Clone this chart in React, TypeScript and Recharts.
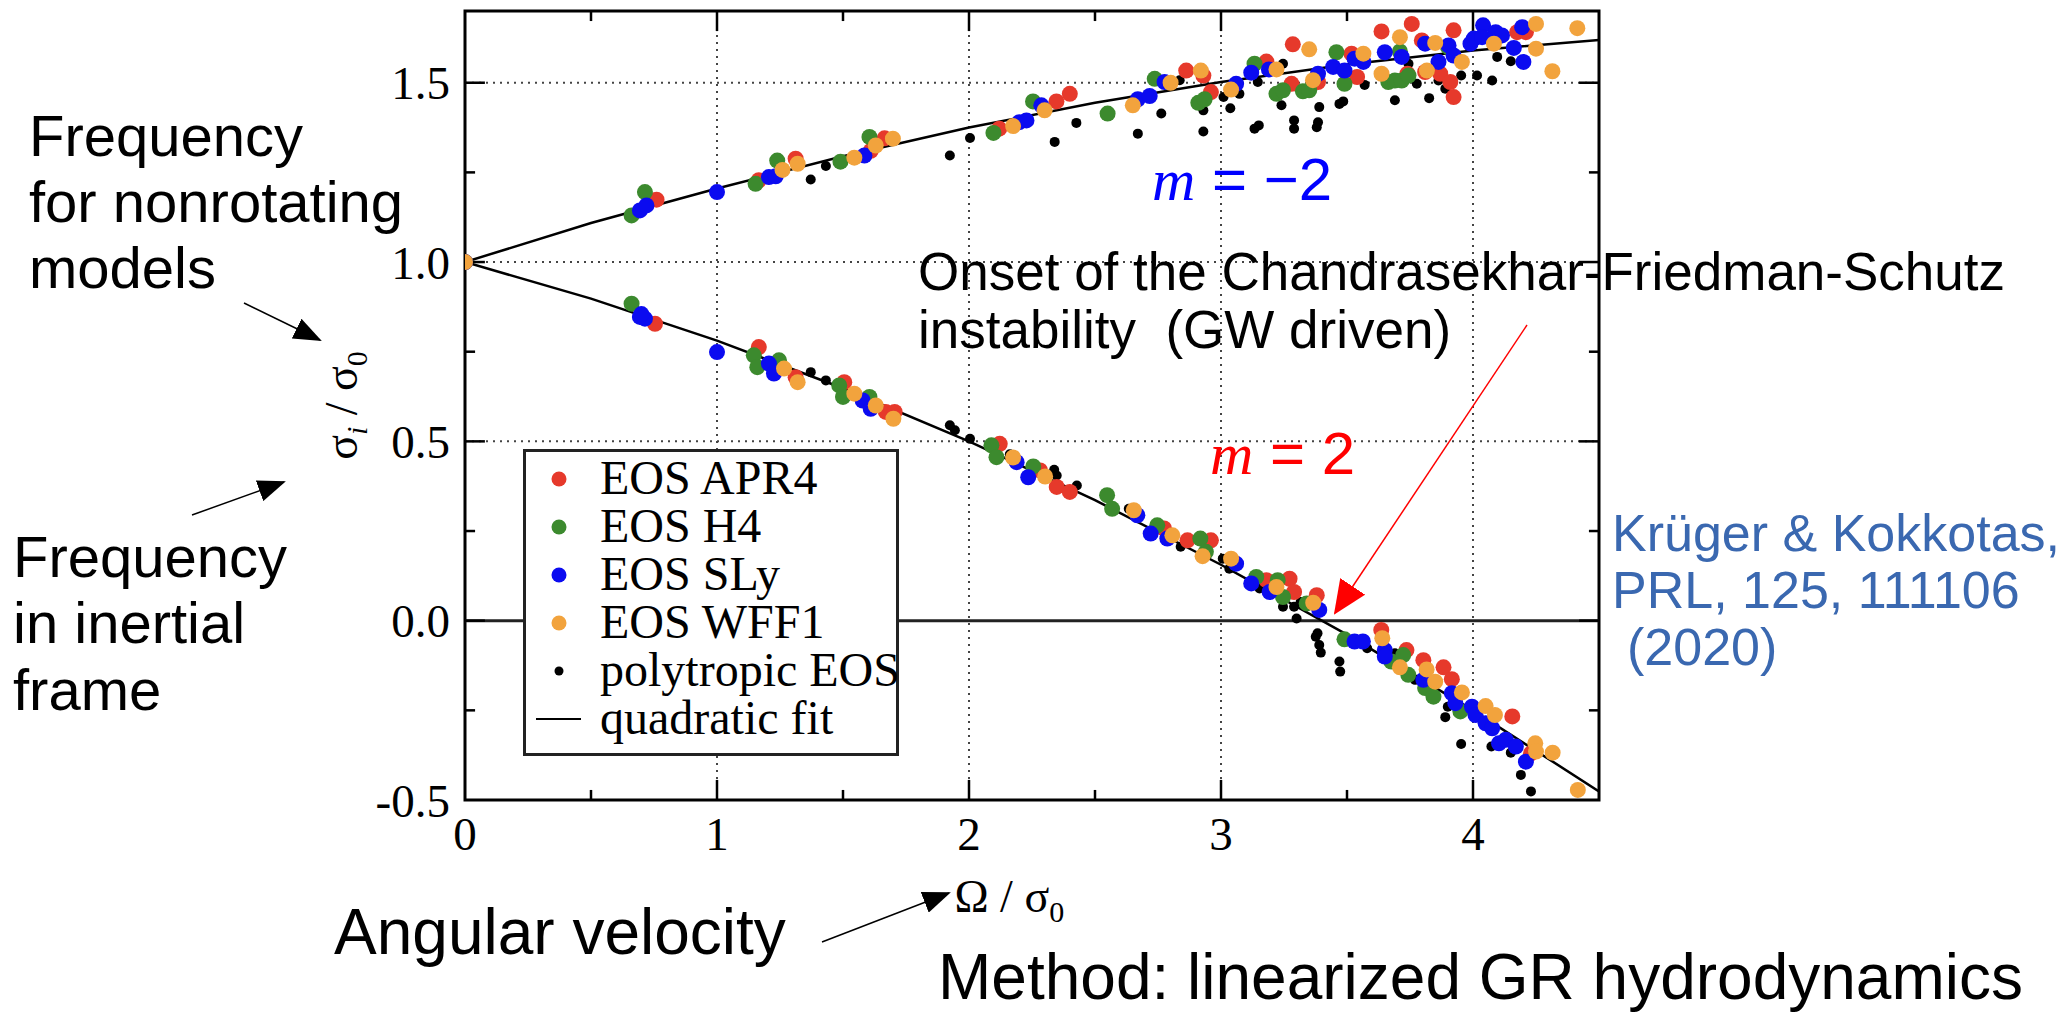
import React from 'react';
import {
  ScatterChart,
  Scatter,
  XAxis,
  YAxis,
  ReferenceLine,
  ReferenceArea,
  Legend
} from 'recharts';

type Pt = [number, number];

// m = -2 branch (upper) and m = 2 branch (lower)
const apr4Upper: Pt[] = [
  [0, 1.0], [0.76, 1.174], [1.166, 1.228], [1.312, 1.288], [1.61, 1.31], [1.665, 1.345],
  [2.12, 1.372], [2.347, 1.448], [2.4, 1.469], [2.862, 1.534], [2.93, 1.52], [2.96, 1.474],
  [3.18, 1.559], [3.285, 1.607], [3.28, 1.497], [3.385, 1.502], [3.518, 1.581], [3.54, 1.516],
  [3.637, 1.643], [3.757, 1.664], [3.797, 1.618], [3.923, 1.646], [3.74, 1.525], [3.81, 1.53],
  [3.87, 1.525], [3.91, 1.502], [3.923, 1.46], [4.175, 1.641], [4.21, 1.641]
];
const apr4Lower: Pt[] = [
  [0.754, 0.828], [1.166, 0.763], [1.312, 0.679], [1.505, 0.665], [1.67, 0.582], [1.705, 0.582],
  [2.122, 0.493], [2.282, 0.419], [2.348, 0.373], [2.4, 0.359], [2.774, 0.257], [2.867, 0.224],
  [2.96, 0.224], [3.18, 0.113], [3.272, 0.117], [3.29, 0.08], [3.38, 0.071], [3.636, -0.026],
  [3.736, -0.082], [3.803, -0.11], [3.883, -0.13], [3.916, -0.163], [4.156, -0.267], [4.23, -0.37]
];

const h4Upper: Pt[] = [
  [0, 1.0], [0.661, 1.13], [0.714, 1.195], [1.153, 1.218], [1.239, 1.283], [1.49, 1.28],
  [1.605, 1.349], [2.097, 1.36], [2.254, 1.448], [2.55, 1.414], [2.737, 1.511], [2.91, 1.444],
  [2.935, 1.454], [3.133, 1.553], [3.22, 1.469], [3.246, 1.479], [3.325, 1.476], [3.35, 1.479],
  [3.458, 1.585], [3.49, 1.497], [3.664, 1.502], [3.69, 1.506], [3.717, 1.506], [3.744, 1.52],
  [3.71, 1.587], [3.9, 1.6]
];
const h4Lower: Pt[] = [
  [0.661, 0.884], [1.146, 0.74], [1.16, 0.707], [1.246, 0.726], [1.485, 0.656], [1.5, 0.624],
  [1.605, 0.624], [2.089, 0.489], [2.109, 0.456], [2.255, 0.43], [2.548, 0.35], [2.568, 0.312],
  [2.747, 0.266], [2.918, 0.229], [2.94, 0.192], [3.14, 0.122], [3.225, 0.113], [3.246, 0.066],
  [3.34, 0.048], [3.49, -0.052], [3.676, -0.114], [3.723, -0.096], [3.743, -0.151], [3.81, -0.188],
  [3.843, -0.212], [3.95, -0.253]
];

const slyUpper: Pt[] = [
  [0, 1.0], [0.694, 1.144], [0.72, 1.158], [1.0, 1.195], [1.206, 1.237], [1.233, 1.239],
  [1.585, 1.297], [2.2, 1.39], [2.228, 1.395], [2.287, 1.437], [2.67, 1.454], [2.717, 1.463],
  [2.776, 1.502], [3.06, 1.497], [3.12, 1.528], [3.19, 1.537], [3.385, 1.525], [3.445, 1.544],
  [3.49, 1.534], [3.53, 1.567], [3.565, 1.558], [3.65, 1.585], [3.717, 1.572], [3.81, 1.609],
  [3.863, 1.558], [3.903, 1.604], [3.923, 1.576], [3.99, 1.609], [4.003, 1.623], [4.04, 1.66],
  [4.036, 1.627], [4.09, 1.641], [4.115, 1.632], [4.162, 1.597], [4.195, 1.655], [4.2, 1.558]
];
const slyLower: Pt[] = [
  [0.694, 0.847], [0.714, 0.842], [0.7, 0.855], [1.0, 0.749], [1.206, 0.717], [1.226, 0.689],
  [1.578, 0.614], [1.61, 0.591], [2.189, 0.442], [2.235, 0.4], [2.668, 0.294], [2.721, 0.243],
  [2.787, 0.229], [3.06, 0.159], [3.12, 0.104], [3.193, 0.08], [3.39, 0.03], [3.53, -0.058],
  [3.563, -0.058], [3.65, -0.082], [3.65, -0.1], [3.803, -0.165], [3.916, -0.202], [3.93, -0.23],
  [3.996, -0.24], [4.01, -0.263], [4.05, -0.286], [4.076, -0.3], [4.103, -0.342], [4.13, -0.332],
  [4.17, -0.351], [4.21, -0.393]
];

const wff1Upper: Pt[] = [
  [0, 1.0], [1.26, 1.257], [1.32, 1.274], [1.545, 1.291], [1.63, 1.325], [1.698, 1.344],
  [2.175, 1.379], [2.3, 1.423], [2.65, 1.437], [2.8, 1.5], [2.92, 1.534], [3.04, 1.481],
  [3.22, 1.537], [3.35, 1.593], [3.365, 1.507], [3.565, 1.581], [3.637, 1.525], [3.71, 1.627],
  [3.817, 1.534], [3.85, 1.611], [3.956, 1.558], [4.083, 1.609], [4.25, 1.664], [4.25, 1.595],
  [4.315, 1.532], [4.414, 1.652]
];
const wff1Lower: Pt[] = [
  [1.266, 0.703], [1.32, 0.665], [1.545, 0.633], [1.63, 0.6], [1.7, 0.563], [2.175, 0.455],
  [2.302, 0.402], [2.654, 0.308], [2.807, 0.238], [2.927, 0.18], [3.04, 0.173], [3.22, 0.094],
  [3.366, 0.05], [3.64, -0.049], [3.71, -0.13], [3.816, -0.136], [3.85, -0.17], [3.956, -0.2],
  [4.05, -0.238], [4.087, -0.263], [4.247, -0.342], [4.25, -0.365], [4.316, -0.368], [4.416, -0.472]
];

const polyUpper: Pt[] = [
  [1.372, 1.23], [1.432, 1.268], [1.924, 1.297], [2.004, 1.346], [2.34, 1.335], [2.426, 1.388],
  [2.67, 1.358], [2.763, 1.414], [2.836, 1.507], [2.93, 1.423], [2.93, 1.364], [3.01, 1.46],
  [3.037, 1.429], [3.073, 1.469], [3.146, 1.502], [3.133, 1.372], [3.15, 1.381], [3.246, 1.553],
  [3.24, 1.437], [3.29, 1.395], [3.29, 1.372], [3.39, 1.432], [3.385, 1.39], [3.38, 1.376],
  [3.47, 1.441], [3.485, 1.448], [3.57, 1.494], [3.69, 1.451], [3.744, 1.553], [3.777, 1.497],
  [3.826, 1.457], [3.863, 1.506], [3.89, 1.483], [3.953, 1.52], [4.016, 1.52], [4.076, 1.506],
  [4.096, 1.572], [4.15, 1.56]
];
const polyLower: Pt[] = [
  [1.372, 0.693], [1.432, 0.67], [1.924, 0.545], [1.944, 0.531], [2.004, 0.507], [2.162, 0.464],
  [2.338, 0.421], [2.348, 0.405], [2.428, 0.377], [2.634, 0.312], [2.84, 0.206], [3.007, 0.173],
  [3.033, 0.145], [3.153, 0.09], [3.246, 0.039], [3.29, 0.039], [3.3, 0.006], [3.316, 0.052],
  [3.383, -0.035], [3.376, -0.045], [3.39, -0.068], [3.396, -0.089], [3.47, -0.114], [3.473, -0.142],
  [3.58, -0.077], [3.69, -0.091], [3.77, -0.165], [3.89, -0.269], [3.9, -0.24], [3.953, -0.344],
  [4.073, -0.351], [4.15, -0.368], [4.19, -0.43], [4.23, -0.476]
];

// quadratic fit curves
const fitUpper: Pt[] = [
  [0, 1.0], [0.5, 1.109], [1, 1.205], [1.5, 1.295], [2, 1.375], [2.5, 1.444],
  [3, 1.502], [3.5, 1.551], [4, 1.59], [4.5, 1.619]
];
const fitLower: Pt[] = [
  [0, 1.0], [0.5, 0.898], [1, 0.781], [1.5, 0.648], [2, 0.5], [2.5, 0.336],
  [3, 0.156], [3.5, -0.039], [4, -0.25], [4.5, -0.476]
];

const xTicks = [0, 1, 2, 3, 4];
const yTicks = [-0.5, 0, 0.5, 1, 1.5];
const xMajorMarks = [1, 2, 3, 4];
const xMinorMarks = [0.5, 1.5, 2.5, 3.5];
const yMajorMarks = [0, 0.5, 1, 1.5];
const yMinorMarks = [-0.25, 0.25, 0.75, 1.25];
const xGrid = [1, 2, 3, 4];
const yGrid = [0.5, 1, 1.5];

const X_MIN = 0, X_MAX = 4.5, Y_MIN = -0.5, Y_MAX = 1.7;

const toObj = (pts: Pt[]) => pts.map(([x, y]) => ({ x, y }));

const series = [
  { name: 'EOS APR4', color: '#e6392b', r: 8, lr: 7.5, data: [...apr4Upper, ...apr4Lower] },
  { name: 'EOS H4', color: '#3c8a2e', r: 8, lr: 7.5, data: [...h4Upper, ...h4Lower] },
  { name: 'EOS SLy', color: '#0b0bf0', r: 8, lr: 7.5, data: [...slyUpper, ...slyLower] },
  { name: 'EOS WFF1', color: '#f2a33d', r: 8, lr: 7.5, data: [...wff1Upper, ...wff1Lower] },
  { name: 'polytropic EOS', color: '#000000', r: 5, lr: 4.5, data: [...polyUpper, ...polyLower] }
];

const legendRowsY = [30, 78, 126, 174, 222, 270];

const LegendBox = () => (
  <svg width={376} height={307} style={{ display: 'block' }}>
    <rect x={1.5} y={1.5} width={373} height={304} fill="#fff" stroke="#222" strokeWidth={3} />
    {series.map((s, i) => (
      <g key={s.name}>
        <circle cx={36} cy={legendRowsY[i]} r={s.lr} fill={s.color} />
        <text x={77} y={legendRowsY[i] + 15} fontFamily="Liberation Serif" fontSize={48} fill="#000">
          {s.name}
        </text>
      </g>
    ))}
    <line x1={13} x2={58} y1={legendRowsY[5]} y2={legendRowsY[5]} stroke="#000" strokeWidth={2} />
    <text x={77} y={legendRowsY[5] + 15} fontFamily="Liberation Serif" fontSize={48} fill="#000">
      quadratic fit
    </text>
  </svg>
);

const XTitle = (props: any) => {
  const vb = props.viewBox || { x: 465, y: 800, width: 1134 };
  return (
    <text x={vb.x + vb.width * 0.48} y={vb.y + 112} textAnchor="middle"
      fontFamily="Liberation Serif" fontSize={46} fill="#000">
      Ω / σ<tspan fontSize={30} dy={10}>0</tspan>
    </text>
  );
};

const YTitle = (props: any) => {
  const vb = props.viewBox || { x: 335, y: 11, width: 130, height: 789 };
  const bx = vb.x + 22;
  const cy = vb.y + vb.height * 0.5;
  return (
    <text transform={`translate(${bx},${cy}) rotate(-90)`} textAnchor="middle"
      fontFamily="Liberation Serif" fontSize={46} fill="#000">
      σ<tspan fontSize={30} dy={10} fontStyle="italic">i</tspan>
      <tspan dy={-10}> / σ</tspan>
      <tspan fontSize={30} dy={10}>0</tspan>
    </text>
  );
};

const dot = (color: string, r: number) => (props: any) => {
  if (props.cx == null || props.cy == null) return <g />;
  return <circle cx={props.cx} cy={props.cy} r={r} fill={color} />;
};

const noDot = () => <g />;

const sans = 'Liberation Sans';

export default function App() {
  const tickStyle = { fill: '#000', fontSize: 47, fontFamily: 'Liberation Serif' };
  return (
    <div style={{ position: 'absolute', left: 0, top: 0, width: 2072, height: 1014, background: '#fff' }}>
      <ScatterChart
        width={2072}
        height={1014}
        margin={{ top: 11, right: 473, bottom: 84, left: 335 }}
      >
        <XAxis
          type="number"
          dataKey="x"
          domain={[X_MIN, X_MAX]}
          ticks={xTicks}
          interval={0}
          allowDataOverflow
          axisLine={false}
          tickLine={false}
          tickSize={0}
          tickMargin={17}
          height={130}
          tick={tickStyle}
          label={{ content: XTitle }}
        />
        <YAxis
          type="number"
          dataKey="y"
          domain={[Y_MIN, Y_MAX]}
          ticks={yTicks}
          interval={0}
          allowDataOverflow
          axisLine={false}
          tickLine={false}
          tickSize={0}
          tickMargin={15}
          width={130}
          tick={tickStyle}
          tickFormatter={(v: number) => v.toFixed(1)}
          label={{ content: YTitle }}
        />

        {xGrid.map(v => (
          <ReferenceLine key={`gx${v}`} x={v} stroke="#444" strokeWidth={2} strokeDasharray="2 5" />
        ))}
        {yGrid.map(v => (
          <ReferenceLine key={`gy${v}`} y={v} stroke="#444" strokeWidth={2} strokeDasharray="2 5" />
        ))}
        <ReferenceLine y={0} stroke="#222" strokeWidth={3} />

        {xMajorMarks.map(v => (
          <ReferenceLine key={`bx${v}`} segment={[{ x: v, y: Y_MIN }, { x: v, y: Y_MIN + 0.056 }]} stroke="#000" strokeWidth={2.5} />
        ))}
        {xMajorMarks.map(v => (
          <ReferenceLine key={`tx${v}`} segment={[{ x: v, y: Y_MAX }, { x: v, y: Y_MAX - 0.056 }]} stroke="#000" strokeWidth={2.5} />
        ))}
        {xMinorMarks.map(v => (
          <ReferenceLine key={`bmx${v}`} segment={[{ x: v, y: Y_MIN }, { x: v, y: Y_MIN + 0.028 }]} stroke="#000" strokeWidth={2.5} />
        ))}
        {xMinorMarks.map(v => (
          <ReferenceLine key={`tmx${v}`} segment={[{ x: v, y: Y_MAX }, { x: v, y: Y_MAX - 0.028 }]} stroke="#000" strokeWidth={2.5} />
        ))}
        {yMajorMarks.map(v => (
          <ReferenceLine key={`ly${v}`} segment={[{ x: X_MIN, y: v }, { x: X_MIN + 0.079, y: v }]} stroke="#000" strokeWidth={2.5} />
        ))}
        {yMajorMarks.map(v => (
          <ReferenceLine key={`ry${v}`} segment={[{ x: X_MAX, y: v }, { x: X_MAX - 0.079, y: v }]} stroke="#000" strokeWidth={2.5} />
        ))}
        {yMinorMarks.map(v => (
          <ReferenceLine key={`lmy${v}`} segment={[{ x: X_MIN, y: v }, { x: X_MIN + 0.04, y: v }]} stroke="#000" strokeWidth={2.5} />
        ))}
        {yMinorMarks.map(v => (
          <ReferenceLine key={`rmy${v}`} segment={[{ x: X_MAX, y: v }, { x: X_MAX - 0.04, y: v }]} stroke="#000" strokeWidth={2.5} />
        ))}

        <ReferenceArea x1={X_MIN} x2={X_MAX} y1={Y_MIN} y2={Y_MAX} fill="none" fillOpacity={0} stroke="#000" strokeWidth={3} />

        <Scatter name="fit upper" data={toObj(fitUpper)} line={{ stroke: '#000', strokeWidth: 2.5 }}
          lineType="joint" shape={noDot} legendType="none" isAnimationActive={false} />
        <Scatter name="fit lower" data={toObj(fitLower)} line={{ stroke: '#000', strokeWidth: 2.5 }}
          lineType="joint" shape={noDot} legendType="none" isAnimationActive={false} />

        {[series[4], series[0], series[1], series[2], series[3]].map(s => (
          <Scatter key={s.name} name={s.name} data={toObj(s.data)} fill={s.color}
            shape={dot(s.color, s.r)} isAnimationActive={false} />
        ))}

        <Legend
          layout="horizontal"
          verticalAlign="middle"
          align="center"
          content={() => <LegendBox />}
          wrapperStyle={{ left: 523, top: 449, width: 376, height: 307 }}
        />
      </ScatterChart>

      <svg width={2072} height={1014} style={{ position: 'absolute', left: 0, top: 0, pointerEvents: 'none' }}>
        <defs>
          <marker id="headK" markerUnits="userSpaceOnUse" markerWidth={28} markerHeight={22} refX={26} refY={11} orient="auto">
            <path d="M0,0 L28,11 L0,22 z" fill="#000" />
          </marker>
          <marker id="headR" markerUnits="userSpaceOnUse" markerWidth={34} markerHeight={30} refX={32} refY={15} orient="auto">
            <path d="M0,0 L34,15 L0,30 z" fill="#ff0000" />
          </marker>
        </defs>

        <g fontFamily={sans} fill="#000">
          <text x={29} y={156} fontSize={58}>Frequency</text>
          <text x={29} y={222} fontSize={58}>for nonrotating</text>
          <text x={29} y={288} fontSize={58}>models</text>

          <text x={13} y={577} fontSize={58}>Frequency</text>
          <text x={13} y={643} fontSize={58}>in inertial</text>
          <text x={13} y={710} fontSize={58}>frame</text>

          <text x={334} y={954} fontSize={64}>Angular velocity</text>
          <text x={938} y={999} fontSize={64}>Method: linearized GR hydrodynamics</text>

          <text x={918} y={290} fontSize={53}>Onset of the Chandrasekhar-Friedman-Schutz</text>
          <text x={918} y={348} fontSize={53} xmlSpace="preserve">instability  (GW driven)</text>
        </g>

        <text x={1152} y={200} fontSize={60} fill="#0000ff">
          <tspan fontFamily="Liberation Serif" fontStyle="italic">m</tspan>
          <tspan fontFamily={sans}> = −2</tspan>
        </text>
        <text x={1210} y={474} fontSize={60} fill="#ff0000">
          <tspan fontFamily="Liberation Serif" fontStyle="italic">m</tspan>
          <tspan fontFamily={sans}> = 2</tspan>
        </text>

        <g fontFamily={sans} fill="#3a68b0" fontSize={52}>
          <text x={1612} y={551}>Krüger &amp; Kokkotas,</text>
          <text x={1612} y={608}>PRL, 125, 111106</text>
          <text x={1627} y={665}>(2020)</text>
        </g>

        <line x1={244} y1={303} x2={320} y2={340} stroke="#000" strokeWidth={1.5} markerEnd="url(#headK)" />
        <line x1={192} y1={515} x2={284} y2={482} stroke="#000" strokeWidth={1.5} markerEnd="url(#headK)" />
        <line x1={822} y1={942} x2={949} y2={893} stroke="#000" strokeWidth={1.5} markerEnd="url(#headK)" />
        <line x1={1527} y1={325} x2={1335} y2={613} stroke="#ff0000" strokeWidth={1.5} markerEnd="url(#headR)" />
      </svg>
    </div>
  );
}
